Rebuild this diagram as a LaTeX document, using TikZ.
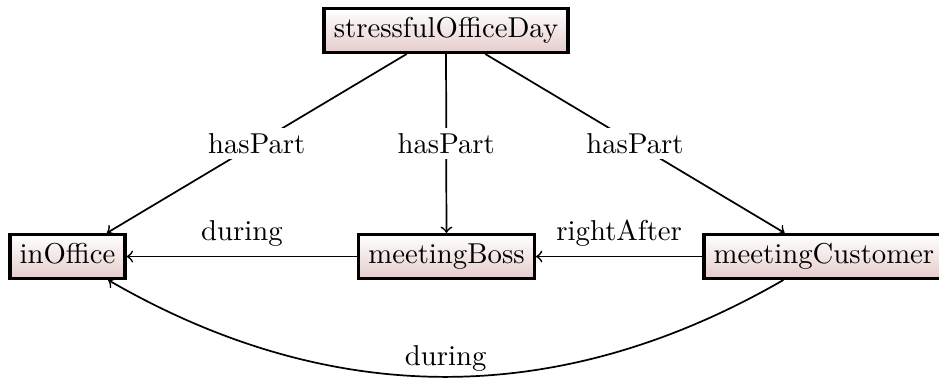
\documentclass[tikz,border=0pt]{standalone}
\usetikzlibrary{arrows}
\definecolor{boxbottom}{RGB}{230,204,204}
\begin{document}
\begin{tikzpicture}[x=0.348pt,y=-0.348pt,
  concept/.style={draw, very thick, rectangle, top color=white, bottom color=boxbottom,
    inner sep=3.333pt, text height=6.6pt, text depth=1.9pt},
  rel/.style={->, semithick},
  lbl/.style={fill=white, inner sep=2pt}]
  \useasboundingbox (0,0) rectangle (939,378);

  \node[concept] (day)  at (446,30.5)  {stressfulOfficeDay};
  \node[concept] (off)  at (67.5,256.5) {inOffice};
  \node[concept] (boss) at (446.5,256.5) {meetingBoss};
  \node[concept] (cust) at (824,256.5) {meetingCustomer};

  \draw[rel] (day) -- node[lbl] {hasPart} (off);
  \draw[rel] (day) -- node[lbl] {hasPart} (boss);
  \draw[rel] (day) -- node[lbl] {hasPart} (cust);

  \draw[rel] (boss) -- node[above] {during} (off);
  \draw[rel] (cust) -- node[above] {rightAfter} (boss);
  \draw[rel] (cust) to[bend left=30, looseness=0.98] node[above, inner sep=1.5pt] {during} (off);
\end{tikzpicture}
\end{document}
